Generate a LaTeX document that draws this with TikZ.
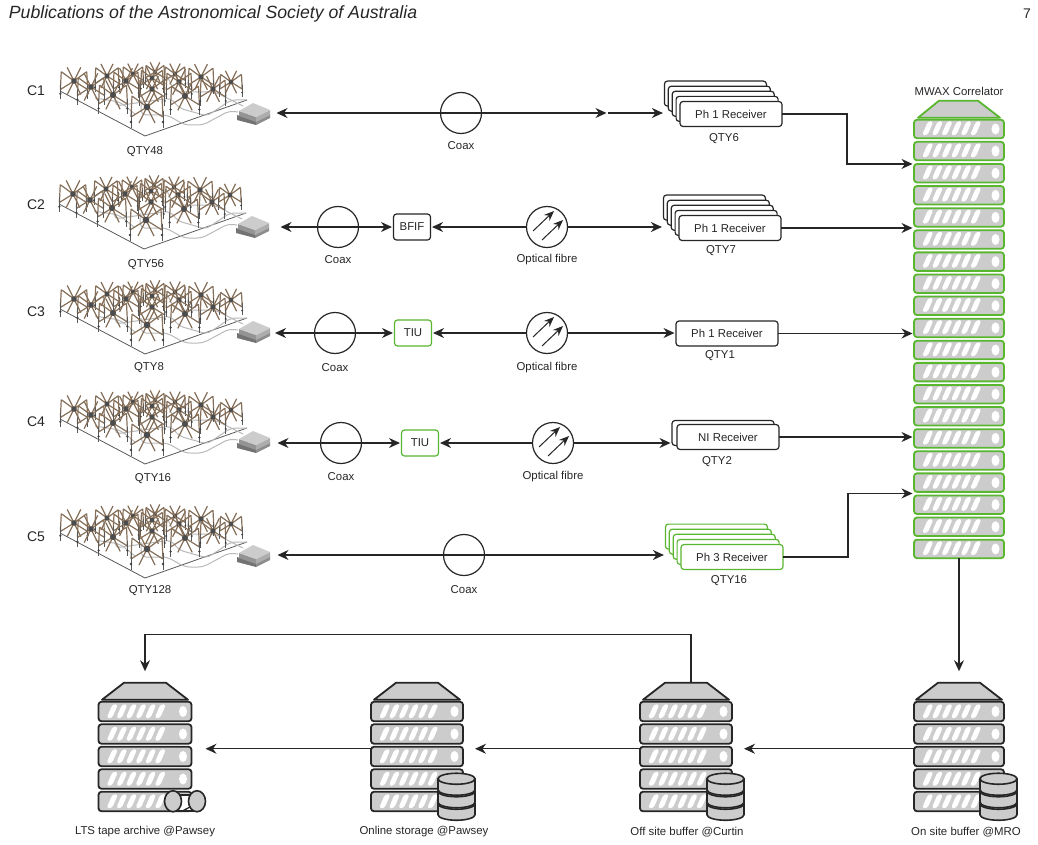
\documentclass[tikz,border=0pt]{standalone}
\usepackage{fontspec}
\setmainfont{Liberation Sans}
\usetikzlibrary{positioning}
\usetikzlibrary{calc,arrows.meta}

\definecolor{mwagreen}{HTML}{58B62F}
\definecolor{unitgrey}{HTML}{CCCCCC}
\definecolor{legbrown}{HTML}{86705A}

\begin{document}
\begin{tikzpicture}[x=1pt,y=-1pt,on grid,every node/.style={font=\fontsize{11.4}{13}\selectfont,text=black!85,inner sep=0pt,outer sep=0pt}]

	\tikzstyle{unit}=[rectangle,rounded corners=3pt,draw=black!85,fill=unitgrey,line width=1.8pt,minimum width=90pt,minimum height=19.5pt,
	path picture={
		\foreach \s in {0,...,5}
			\fill[white] ($(path picture bounding box.south west)+(8+9.6*\s,-3)$) -- ++(5.5,0) -- ++(6,-14) -- ++(-5.5,0) -- cycle;
		\fill[white] ($(path picture bounding box.east)+(-8.5,0)$) ellipse (4pt and 5.5pt);
	}]
	\tikzstyle{green unit}=[unit,draw=mwagreen]
	\tikzstyle{roof}=[draw=black!85,fill=unitgrey,line width=1.8pt,line join=round]
	\tikzstyle{receiver}=[rectangle,rounded corners=3pt,draw=black!85,fill=white,line width=1.2pt,minimum width=102pt,minimum height=25pt]
	\tikzstyle{green receiver}=[receiver,draw=mwagreen]
	\tikzstyle{coax}=[circle,draw=black!85,line width=1.2pt,minimum size=41pt]
	\tikzstyle{fibre}=[coax,fill=white,
	path picture={
		\draw[black!85,line width=1pt,-{Stealth[length=10pt,width=8pt]}] ($(path picture bounding box.center)+(-14,4)$) -- ($(path picture bounding box.center)+(7,-16)$);
		\draw[black!85,line width=1pt,-{Stealth[length=10pt,width=8pt]}] ($(path picture bounding box.center)+(-5,13)$) -- ($(path picture bounding box.center)+(16,-7)$);
	}]
	\tikzstyle{small box}=[rectangle,rounded corners=3pt,draw=black!85,fill=white,line width=1.2pt,minimum width=37pt,minimum height=26pt]
	\tikzstyle{green box}=[small box,draw=mwagreen]
	\tikzstyle{amp}=[rectangle,minimum width=38pt,minimum height=20pt]
	\tikzstyle{link}=[black!85,line width=1.25pt,-{Stealth[length=11pt,width=10pt]},shorten >=1.5pt]
	\tikzstyle{both}=[link,{Stealth[length=11pt,width=10pt]}-{Stealth[length=11pt,width=10pt]},shorten <=1.5pt]

	\tikzset{
		tile/.pic={
			% ground lines and cables
			\draw[black!65,line width=.8pt] (-85,-45) -- (0,0) -- (102,-36);
			\draw[black!28,line width=1pt,rounded corners=5pt] (93,-24) -- (84,-25) -- (58,-11) -- (40,-11) -- (22,-21) -- (-4,-21) -- (-4,-36);
			\draw[black!28,line width=1pt,rounded corners=5pt] (102,-36) -- (86,-36) -- (62,-20) -- (34,-28) -- (26,-38) -- (-30,-30) -- (-30,-44);
			\draw[black!28,line width=1pt,rounded corners=5pt] (98,-30) -- (70,-44) -- (30,-44) -- (22,-60);
			\draw[black!28,line width=1pt,rounded corners=5pt] (-50,-38) -- (-25,-34) -- (-10,-22);
			% antennas, far ones first
			\foreach \a/\b/\f in {10/-64/.6,-12/-62/.65,30/-62/.65,-38/-60/.75,7/-58/.7,56/-59/.8,86/-54/.7,-71/-55/.85,-19/-55/.8,34/-54/.8,68/-47/.8,-54/-49/.85,7/-47/.8,-32/-41/.9,40/-40/.9,2/-29/1} {
				\draw[legbrown,line width=1.2pt] (\a,\b) -- (\a-15*\f,\b-11*\f) (\a,\b) -- (\a+15*\f,\b-11*\f)
					(\a,\b) -- (\a-16*\f,\b+10*\f) (\a,\b) -- (\a+16*\f,\b+10*\f)
					(\a,\b) -- (\a-8*\f,\b-16*\f) (\a,\b) -- (\a+8*\f,\b-16*\f)
					(\a,\b) -- (\a-8*\f,\b+16*\f) (\a,\b) -- (\a+8*\f,\b+16*\f)
					(\a-15*\f,\b-11*\f) -- (\a-16*\f,\b+10*\f) (\a+15*\f,\b-11*\f) -- (\a+16*\f,\b+10*\f);
				\draw[black!65,line width=1pt] (\a-16*\f,\b+4*\f) -- (\a-16*\f,\b+21*\f) (\a+16*\f,\b+4*\f) -- (\a+16*\f,\b+21*\f);
				\fill[black!70] (\a,\b) circle (3.3*\f);
				\fill[black!75] (\a-16*\f,\b+15*\f) circle (1.4*\f) (\a+16*\f,\b+15*\f) circle (1.4*\f);
			}
			% beamformer
			\fill[black!55] (92,-21) -- (111,-15) -- (111,-11) -- (92,-16) -- cycle;
			\fill[black!45] (111,-15) -- (125,-22) -- (125,-18) -- (111,-11) -- cycle;
			\fill[black!42] (94,-25) -- (111,-19) -- (111,-14) -- (94,-20) -- cycle;
			\fill[black!32] (111,-19) -- (125,-26) -- (125,-21) -- (111,-14) -- cycle;
			\fill[black!20] (94,-25) -- (108,-33) -- (125,-26) -- (111,-19) -- cycle;
		},
		dbstack/.pic={
			\foreach \k in {2,1,0} {
				\filldraw[draw=black!85,fill=unitgrey,line width=1.6pt] (-18.5,12.5*\k) -- (-18.5,12.5*\k+11) arc[start angle=180,end angle=0,x radius=18.5,y radius=5.5] -- (18.5,12.5*\k) -- cycle;
				\filldraw[draw=black!85,fill=unitgrey,line width=1.6pt] (0,12.5*\k) ellipse (18.5pt and 5.5pt);
			}
		},
		tapepair/.pic={
			\draw[black!85,fill=white,line width=1.6pt] (-12,-6) -- (12,-6) -- (12,10) -- (-12,10) -- cycle;
			\draw[black!85,line width=1.4pt] (-3,10) -- (12,2);
			\filldraw[draw=black!85,fill=unitgrey,line width=1.6pt] (-12,0) ellipse (8.5pt and 10.5pt);
			\filldraw[draw=black!85,fill=unitgrey,line width=1.6pt] (12,0) ellipse (8.5pt and 10.5pt);
		}
	}

	\useasboundingbox (0,0) rectangle (1038,845);

	\node (journal) at (213,14) {\fontsize{17.7}{20}\selectfont\itshape Publications of the Astronomical Society of Australia};
	\node (pagenum) at (1027,14) {\fontsize{14}{16}\selectfont 7};

	% Correlator:
	\foreach \i in {1,...,20}
		\node [green unit,minimum height=18.5pt] (cor\i) at (959,{129+22.1*(\i-1)}) {};
	\filldraw[roof,draw=mwagreen] ($(cor1.north)+(-41,-2)$) -- ($(cor1.north)+(-20,-19)$) -- ($(cor1.north)+(19,-19)$) -- ($(cor1.north)+(41,-2)$) -- cycle;
	\node (corlabel) at (959,91) {MWAX Correlator};

	% Row C1:
	\pic at (145,136) {tile};
	\node (c1name) at (36,91) {\fontsize{14}{16}\selectfont C1};
	\node (c1qty) at (145,152) {QTY48};
	\node [amp] (c1amp) at (256,113) {};
	\node [coax] (c1coax) at (461,113) {};
	\node (c1coaxl) [below of=c1coax,node distance=33pt] {Coax};
	\coordinate (c1mid) at (608,113);
	\foreach \k in {4,3,2,1}
		\node [receiver] (c1rx\k) at ({731-3.9*\k},{114-5.1*\k}) {};
	\node [receiver] (c1rx) at (731,114) {Ph 1 Receiver};
	\node (c1rxl) at (724,139) {QTY6};
	\draw[both] (c1amp) -- (c1mid);
	\draw[link] (c1mid) -- (c1rx4.west |- c1mid);
	\draw[link] (c1rx.east) -- ++(65,0) |- (cor3.north west);

	% Row C2:
	\pic at (144,249) {tile};
	\node (c2name) at (36,205) {\fontsize{14}{16}\selectfont C2};
	\node (c2qty) at (146,265) {QTY56};
	\node [amp] (c2amp) at (260,227) {};
	\node [coax] (c2coax) at (338,227) {};
	\node (c2coaxl) [below of=c2coax,node distance=33pt] {Coax};
	\node [small box] (bfif) at (412,227) {BFIF};
	\node [fibre] (c2fib) at (547,227) {};
	\node (c2fibl) [below of=c2fib,node distance=33pt] {Optical fibre};
	\foreach \k in {4,3,2,1}
		\node [receiver] (c2rx\k) at ({730-3.9*\k},{228-5.1*\k}) {};
	\node [receiver] (c2rx) at (730,228) {Ph 1 Receiver};
	\node (c2rxl) at (721,251) {QTY7};
	\draw[both] (c2amp) -- (bfif);
	\draw[link] (c2fib) -- (bfif);
	\draw[link] (c2fib) -- (c2rx4.west |- c2fib);
	\draw[link] (c2rx.east) -- (c2rx.east -| cor6.west);

	% Row C3:
	\pic at (145,354) {tile};
	\node (c3name) at (36,312) {\fontsize{14}{16}\selectfont C3};
	\node (c3qty) at (149,368) {QTY8};
	\node [amp] (c3amp) at (254.5,333) {};
	\node [coax] (c3coax) at (335,333) {};
	\node (c3coaxl) [below of=c3coax,node distance=35pt] {Coax};
	\node [green box] (c3tiu) at (413,333) {TIU};
	\node [fibre] (c3fib) at (547,333) {};
	\node (c3fibl) [below of=c3fib,node distance=35pt] {Optical fibre};
	\node [receiver] (c3rx) at (727,333.5) {Ph 1 Receiver};
	\node (c3rxl) at (720,356) {QTY1};
	\draw[both] (c3amp) -- (c3tiu);
	\draw[link] (c3fib) -- (c3tiu);
	\draw[link] (c3fib) -- (c3rx.west |- c3fib);
	\draw[link] (c3rx.east) -- (c3rx.east -| cor10.west);

	% Row C4:
	\pic at (145,464) {tile};
	\node (c4name) at (36,422) {\fontsize{14}{16}\selectfont C4};
	\node (c4qty) at (153,479) {QTY16};
	\node [amp] (c4amp) at (257,443) {};
	\node [coax] (c4coax) at (341,443) {};
	\node (c4coaxl) [below of=c4coax,node distance=34pt] {Coax};
	\node [green box] (c4tiu) at (420,443) {TIU};
	\node [fibre] (c4fib) at (553,443) {};
	\node (c4fibl) [below of=c4fib,node distance=34pt] {Optical fibre};
	\node [receiver] (c4back) at (723,433) {};
	\node [receiver] (c4rx) at (728,437) {NI Receiver};
	\node (c4rxl) at (717,462) {QTY2};
	\draw[both] (c4amp) -- (c4tiu);
	\draw[link] (c4fib) -- (c4tiu);
	\draw[link] (c4fib) -- (c4back.west |- c4fib);
	\draw[link] (c4rx.east) -- (c4rx.east -| cor15.west);

	% Row C5:
	\pic at (145,578) {tile};
	\node (c5name) at (36,537) {\fontsize{14}{16}\selectfont C5};
	\node (c5qty) at (150,591) {QTY128};
	\node [amp] (c5amp) at (257,555) {};
	\node [coax] (c5coax) at (464,555) {};
	\node (c5coaxl) [below of=c5coax,node distance=35pt] {Coax};
	\foreach \k in {4,3,2,1}
		\node [green receiver] (c5rx\k) at ({732-3.9*\k},{557-5.1*\k}) {};
	\node [green receiver] (c5rx) at (732,557) {Ph 3 Receiver};
	\node (c5rxl) at (729,581) {QTY16};
	\draw[both] (c5amp) -- (c5rx4.west |- c5amp);
	\draw[link] (c5rx.east) -- ++(65,0) |- ($(cor18.north west)+(0,-2)$);

	% Storage:
	\foreach \name/\cx/\bw in {mro/959/90,off/686/92,online/417/92,lts/145/93} {
		\foreach \i in {1,...,5}
			\node [unit,minimum width=\bw pt] (\name\i) at (\cx,{711.5+22.5*(\i-1)}) {};
		\filldraw[roof] ($(\name1.north)+(-43,-2)$) -- ($(\name1.north)+(-21,-19)$) -- ($(\name1.north)+(21,-19)$) -- ($(\name1.north)+(43,-2)$) -- cycle;
		\coordinate (\name roof) at ($(\name1.north)+(5,-19)$);
		\coordinate (\name in) at ($(\name1.north)+(0,-29)$);
		\coordinate (\name out) at ($(\name3.north west)+(0,2)$);
	}
	\pic at ($(mro5.north)+(39.5,-13)$) {dbstack};
	\pic at ($(off5.north)+(39.5,-13)$) {dbstack};
	\pic at ($(online5.north)+(39.5,-13)$) {dbstack};
	\pic at ($(lts5.north)+(40,9.5)$) {tapepair};
	\node (mrol) at (966,832) {On site buffer @MRO};
	\node (offl) at (687,832) {Off site buffer @Curtin};
	\node (onlinel) at (424,832) {Online storage @Pawsey};
	\node (ltsl) at (145,832) {LTS tape archive @Pawsey};

	\draw[link] (cor20.south) -- (mroin);
	\draw[link,shorten >=12pt] (mroout) -- (mroout -| off3.east);
	\draw[link,shorten >=12pt] (offout) -- (offout -| online3.east);
	\draw[link,shorten >=14pt] (onlineout) -- (onlineout -| lts3.east);
	\draw[link] (offroof) -- ++(0,-48) -| (ltsin);

\end{tikzpicture}
\end{document}
